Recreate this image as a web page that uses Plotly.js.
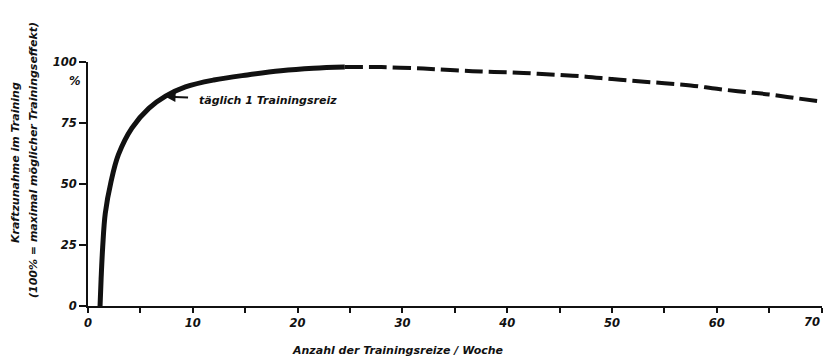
<!DOCTYPE html>
<html>
<head>
<meta charset="utf-8">
<script src="https://cdn.plot.ly/plotly-3.0.1.min.js"></script>
<style>html,body{margin:0;padding:0;background:#fff;}#chart{width:823px;height:358px;}</style>
</head>
<body>
<div id="chart"></div>
<script>
// Solid part of the curve (measured)
var solidX = [1.15, 1.25, 1.4, 1.65, 2.2, 2.9, 4.2, 5.8, 7.4, 9.3, 12, 15.2, 18.4, 21.5, 24.5];
var solidY = [0, 11, 24, 38, 51, 62, 73, 81, 86, 89.8, 92.6, 94.7, 96.4, 97.4, 97.9];
// Dashed extrapolated part
var dashX = [24.5, 28, 32, 35, 37.5, 40, 42.5, 45, 47.5, 50, 52.5, 55, 57.5, 60, 62.5, 65, 67.5, 70];
var dashY = [97.9, 97.9, 97.3, 96.6, 96.1, 95.8, 95.3, 94.7, 94.0, 93.0, 92.1, 91.3, 90.4, 89.0, 87.8, 86.7, 85.2, 83.8];
var xTicks = [0, 10, 20, 30, 40, 50, 60, 70];
var xTickText = ['0', '10', '20', '30', '40', '50', '60', ''];
var lastXLabel = '70';
var yTicks = [0, 25, 50, 75, 100];
var yTickText = ['0', '25', '50', '75', '100'];
var annotText = 'täglich 1 Trainingsreiz';
var annotX = 7.4, annotY = 85.8;
var yTitle1 = 'Kraftzunahme im Training';
var yTitle2 = '(100% = maximal möglicher Trainingseffekt)';
var xTitle = 'Anzahl der Trainingsreize / Woche';

var F = 'DejaVu Sans, sans-serif';
var ink = '#111';
var tickFont = {family: F, size: 11.5, color: ink, weight: 'bold', style: 'italic'};
var labelFont = {family: F, size: 11, color: ink, weight: 'bold', style: 'italic'};

var traces = [
  {x: solidX, y: solidY, mode: 'lines', line: {color: ink, width: 5, shape: 'spline'}, hoverinfo: 'skip'},
  {x: dashX, y: dashY, mode: 'lines', line: {color: ink, width: 4, dash: '18px,6px', shape: 'spline'}, hoverinfo: 'skip'}
];

var layout = {
  width: 823, height: 358,
  margin: {l: 88, r: 1, t: 62, b: 52},
  paper_bgcolor: '#fff', plot_bgcolor: '#fff',
  showlegend: false,
  xaxis: {
    range: [0, 70.03], showgrid: false, zeroline: false,
    showline: true, linecolor: ink, linewidth: 2,
    tickvals: xTicks, ticktext: xTickText, ticks: 'outside', ticklen: 5, tickwidth: 2, tickcolor: ink,
    minor: {dtick: 5, tick0: 0, ticks: 'outside', ticklen: 5, tickwidth: 2, tickcolor: ink},
    tickfont: tickFont
  },
  yaxis: {
    range: [0, 100], showgrid: false, zeroline: false,
    showline: true, linecolor: ink, linewidth: 2,
    tickvals: yTicks, ticktext: yTickText, ticks: 'outside', ticklen: 7, tickwidth: 2, tickcolor: ink,
    tickfont: tickFont
  },
  annotations: [
    {x: annotX, y: annotY, xref: 'x', yref: 'y', text: '', showarrow: true,
     ax: 24, ay: 1, arrowhead: 2, arrowsize: 1, arrowwidth: 2, arrowcolor: ink},
    {x: 10.4, y: 84.2, xref: 'x', yref: 'y', text: annotText, showarrow: false,
     xanchor: 'left', yanchor: 'middle', font: labelFont},
    {x: 822, y: 322, xref: 'paper', yref: 'paper', text: lastXLabel, showarrow: false,
     font: tickFont, xanchor: 'right', yanchor: 'middle'},
    {x: 75, y: 81, xref: 'paper', yref: 'paper', text: '%', showarrow: false,
     font: tickFont, xanchor: 'center', yanchor: 'middle'},
    {x: 15, y: 163, xref: 'paper', yref: 'paper', text: yTitle1, textangle: -90, showarrow: false,
     font: labelFont, xanchor: 'center', yanchor: 'middle'},
    {x: 33, y: 160, xref: 'paper', yref: 'paper', text: yTitle2, textangle: -90, showarrow: false,
     font: labelFont, xanchor: 'center', yanchor: 'middle'},
    {x: 398, y: 350, xref: 'paper', yref: 'paper', text: xTitle, showarrow: false,
     font: labelFont, xanchor: 'center', yanchor: 'middle'}
  ]
};

// convert pixel-positioned paper annotations (x,y in px) to paper fractions
var pw = 823 - 88 - 1, ph = 358 - 62 - 52;
layout.annotations.forEach(function (a) {
  if (a.xref === 'paper') {
    a.x = (a.x - 88) / pw;
    a.y = (358 - 52 - a.y) / ph;
  }
});

Plotly.newPlot('chart', traces, layout, {staticPlot: true, displayModeBar: false});
</script>
</body>
</html>
